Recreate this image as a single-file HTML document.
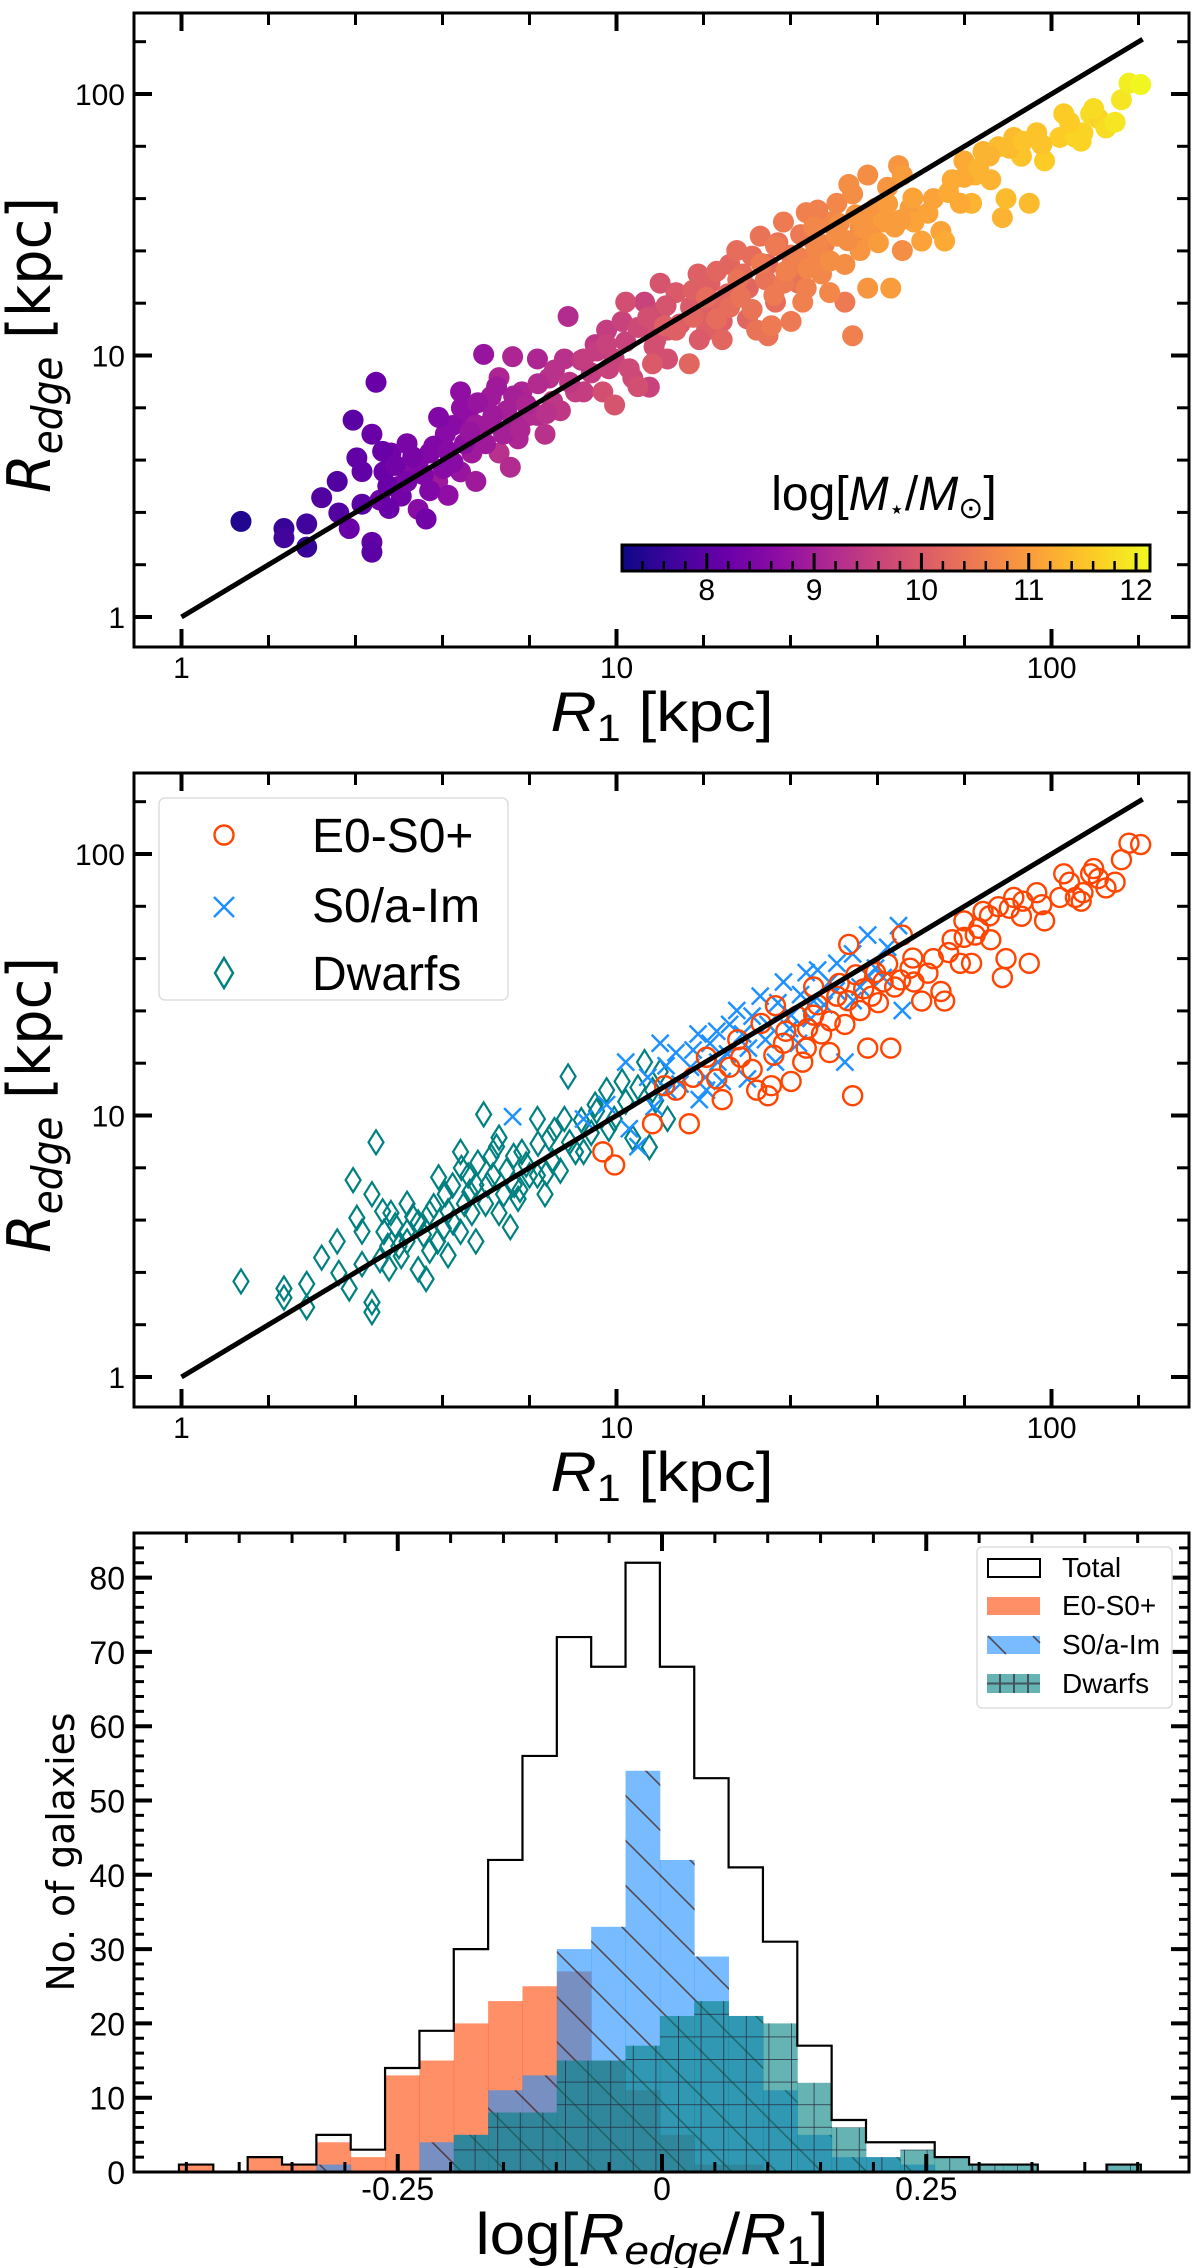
<!DOCTYPE html>
<html><head><meta charset="utf-8"><style>
html,body{margin:0;padding:0;background:#fff}
svg{display:block}
text{font-family:"Liberation Sans",sans-serif}
</style></head><body>
<svg id="fig" xmlns="http://www.w3.org/2000/svg" width="1200" height="2268" viewBox="0 0 1200 2268">
<defs>
<linearGradient id="plasmaGrad" x1="0" x2="1" y1="0" y2="0">
<stop offset="0" stop-color="#0d0887"/><stop offset="0.1" stop-color="#41049d"/><stop offset="0.2" stop-color="#6a00a8"/><stop offset="0.3" stop-color="#8f0da4"/><stop offset="0.4" stop-color="#b12a90"/><stop offset="0.5" stop-color="#cc4778"/><stop offset="0.6" stop-color="#e16462"/><stop offset="0.7" stop-color="#f2844b"/><stop offset="0.8" stop-color="#fca636"/><stop offset="0.9" stop-color="#fcce25"/><stop offset="1" stop-color="#f0f921"/>
</linearGradient>
<pattern id="hatchBack" patternUnits="userSpaceOnUse" width="45" height="45" x="0" y="0">
<line x1="-5" y1="-5" x2="50" y2="50" stroke="rgba(70,35,25,0.75)" stroke-width="1.6"/>
<line x1="-50" y1="-5" x2="5" y2="50" stroke="rgba(70,35,25,0.75)" stroke-width="1.6"/>
<line x1="40" y1="-5" x2="95" y2="50" stroke="rgba(70,35,25,0.75)" stroke-width="1.6"/>
</pattern>
<pattern id="hatchGrid" patternUnits="userSpaceOnUse" width="22.6" height="22.6" x="0" y="2172">
<line x1="0" y1="0" x2="22.6" y2="0" stroke="rgba(40,40,60,0.75)" stroke-width="2"/>
<line x1="0" y1="0" x2="0" y2="22.6" stroke="rgba(40,40,60,0.75)" stroke-width="2"/>
</pattern>
</defs>
<g id="panelTop"></g>
<g id="panelMid"></g>
<g id="panelHist"></g>
</svg>
<script>
// ---------- scatter data (R1 kpc, Redge kpc, log M*) ----------
const dwarfR1 = [1.37,1.72,1.72,1.94,1.94,2.10,2.28,2.43,2.48,2.53,2.74,2.74,2.74,2.80,2.86,2.92,3.03,3.16,3.30,3.30,3.50,3.50,3.65,3.72,3.88,4.04,4.1,4.38,4.38,4.56,4.65,4.75,4.95,5.05,5.15,5.37,5.59,5.70,5.94,6.06,6.31,6.58,6.85,7.0,7.43,7.59,7.74,8.05,8.75,8.93,9.49,9.88,10.3,10.9,11.6,11.9,12.1,12.6,13.1,2.98,3.72,4.21,4.75,5.82,6.58,7.13,8.40,5.37,4.47,
 2.6,2.9,3.1,3.2,3.4,3.6,3.8,4.0,4.2,4.4,4.6,4.8,5.0,5.2,5.5,5.8,6.2,6.6,7.2,7.8,8.3,9.0,9.6,10.5,11.2,12.3,3.0,2.3,3.3,4.1,5.3,6.0,6.9,3.9,2.6];
const dwarfRe = [2.32,2.18,2.01,2.27,1.85,2.86,3.30,2.18,5.66,4.06,5.0,1.93,1.77,7.9,2.80,3.59,4.24,3.16,4.6,3.59,3.90,2.58,2.37,4.24,3.30,5.0,2.92,7.26,3.59,5.9,4.24,3.30,10.1,5.43,6.97,4.24,6.15,3.74,4.80,7.26,5.90,9.7,5.0,8.2,6.15,9.7,14.1,7.26,8.58,11.0,12.5,9.7,13.5,8.2,16.0,7.57,12.5,14.7,9.7,3.17,3.04,3.90,5.43,5.43,5.90,6.68,7.26,8.23,4.60,
 3.6,4.3,3.8,2.9,4.1,3.5,4.5,3.7,5.4,6.3,5.1,6.6,4.6,5.9,5.0,7.0,6.5,7.8,8.8,7.9,9.6,10.4,8.9,11.3,12.8,11.4,2.6,2.5,3.3,4.3,7.6,5.2,6.0,5.8,2.7];
const dwarfM = [7.4,7.6,7.7,7.7,7.6,7.9,7.9,8.2,8.0,8.1,8.2,8.1,8.0,8.2,8.3,8.2,8.3,8.4,8.4,8.6,8.5,8.6,8.3,8.5,8.9,8.6,8.7,8.7,8.8,8.7,8.9,8.9,8.8,8.9,8.9,9.3,9.0,9.2,9.1,9.1,9.2,9.1,9.3,9.3,9.4,9.3,9.2,9.5,9.5,9.4,9.5,9.6,9.6,9.7,9.6,9.6,9.8,9.7,9.8,8.2,8.5,8.6,8.9,9.0,9.2,9.4,9.5,9.1,8.7,
 8.1,8.2,8.3,8.3,8.4,8.5,8.5,8.6,8.6,8.7,8.8,8.8,8.9,8.9,9.0,9.0,9.1,9.2,9.3,9.4,9.4,9.5,9.6,9.6,9.7,9.8,8.2,7.9,8.4,8.6,8.9,9.1,9.3,8.5,8.0];
const lateR1 = [5.77,8.4,9.49,10.5,10.7,11.2,12.6,13.7,14.8,15.4,16.4,17.1,18.2,18.9,20.1,21.4,22.3,23.2,24.2,25.2,27.3,28.4,30.9,32.1,33.5,34.9,36.3,37.8,39.4,41.0,44.5,45.4,17.5,26.2,13.1,16.1,
 11.8,12.2,13.0,14.0,15.0,16.0,17.0,18.0,19.5,20.5,22.0,23.5,25.0,26.5,28.0,30.0,32.0,35.0,38.0,42.0,29.0,20.0,15.5];
const lateRe = [9.9,9.7,11.0,16.0,8.9,7.6,18.9,17.4,15.3,20.5,18.9,16.0,22.3,25.2,18.1,28.6,22.3,16.0,32.4,24.2,35.2,27.4,32.4,38.2,16.0,41.5,31.0,49.0,36.6,33.7,53.2,25.2,13.5,18.9,12.5,12.5,
 14.0,10.8,15.5,13.2,17.8,14.0,21.0,17.2,20.5,24.0,19.5,27.0,21.5,29.0,23.5,26.5,30.0,27.5,34.0,44.0,36.0,13.8,11.5];
const lateM = [9.1,9.5,9.6,9.8,9.7,9.8,9.9,10.0,10.0,10.1,10.1,10.2,10.2,10.3,10.2,10.4,10.3,10.3,10.5,10.5,10.6,10.6,10.7,10.7,10.5,10.8,10.8,10.8,10.9,10.9,10.9,10.8,10.1,10.4,9.9,10.1,
 9.8,9.8,9.9,10.0,10.1,10.1,10.2,10.2,10.3,10.3,10.4,10.4,10.5,10.5,10.6,10.6,10.7,10.7,10.8,10.9,10.6,10.2,10.0];
const earlyR1 = [9.3,9.9,12.1,12.9,13.7,14.7,16.1,17.5,18.2,19.3,21.0,22.3,22.7,23.2,24.2,25.2,26.8,27.3,28.4,29.6,30.9,32.1,33.5,34.2,34.9,36.3,37.8,39.4,42.7,43.6,45.4,47.3,50.3,53.5,55.7,56.8,59.1,62.9,65.5,66.8,69.6,72.5,75.5,77.1,78.6,81.9,85.3,88.9,92.5,96.4,104.5,106.7,113.5,118.1,123.0,128.2,133.4,144.8,150.7,160.3,41.0,48.3,61.7,28.4,38.6,
 15.0,17.0,19.0,20.5,21.5,23.0,24.5,26.0,27.5,29.0,31.0,32.5,34.0,35.5,37.0,40.0,42.0,45.0,48.0,52.0,58.0,63.0,68.0,72.0,80.0,86.0,95.0,110.0,117.0,125.0,140.0];
const earlyRe = [7.26,6.47,9.3,13.0,12.5,9.3,16.7,11.5,15.3,16.7,12.5,11.9,13.0,26.3,18.9,13.5,16.0,18.1,24.2,20.5,17.4,28.6,22.3,45.1,11.9,25.2,18.1,35.2,18.1,31.0,49.0,36.6,27.4,39.8,29.8,27.4,47.0,55.5,38.2,49.0,60.3,47.0,62.9,33.7,39.8,68.2,57.8,38.2,71.1,55.5,68.2,84.0,68.2,71.1,84.0,80.6,74.2,95.1,110,108.7,32.4,32.4,38.2,31.0,28.6,
 14.0,13.8,19.5,15.0,22.5,17.0,21.0,24.0,21.5,26.5,23.0,32.0,27.5,34.5,30.5,27.0,38.0,33.0,40.0,35.0,42.0,48.0,52.0,58.0,62.0,66.0,64.0,78.0,66.0,88.0,78.0];
const earlyM = [9.8,9.9,10.0,10.1,10.1,10.2,10.3,10.2,10.3,10.4,10.4,10.4,10.5,10.5,10.5,10.5,10.6,10.6,10.7,10.7,10.7,10.8,10.8,10.8,10.6,10.9,10.9,10.9,11.0,11.0,11.0,11.0,11.1,11.1,11.1,11.2,11.2,11.2,11.3,11.3,11.3,11.3,11.4,11.3,11.4,11.4,11.5,11.4,11.5,11.6,11.6,11.6,11.7,11.7,11.8,11.7,11.8,11.9,12.0,12.1,11.0,11.1,11.2,10.7,10.9,
 10.2,10.3,10.4,10.4,10.5,10.5,10.6,10.6,10.7,10.7,10.8,10.8,10.8,10.9,10.9,11.0,11.0,11.0,11.1,11.1,11.2,11.2,11.3,11.3,11.4,11.5,11.5,11.6,11.7,11.8,11.9];
const fitLine = [1, 162];
const xTickLabels = ["1","10","100"];
const yTickLabels = ["1","10","100"];
const cbTicks = [8,9,10,11,12];
const cbRange = [7.21, 12.13];

// ---------- histogram data (28 bins from -0.457, width 0.0325) ----------
const binStart = -0.457;
const binWidth = 0.0325;
const totalCounts = [1,0,2,1,5,3,14,19,30,42,56,72,68,82,68,53,41,31,17,7,4,4,2,1,1,0,0,1];
const earlyCounts = [1,0,2,1,4,2,13,15,20,23,25,27,15,11,5,1,1,0,0,0,0,0,0,0,0,0,0,0];
const lateCounts  = [0,0,0,0,1,0,0,4,5,11,13,30,33,54,42,29,21,11,5,2,2,1,0,0,0,0,0,0];
const dwarfCounts = [0,0,0,0,0,0,0,0,5,8,8,15,15,17,21,23,21,20,12,6,2,3,2,1,1,0,0,1];
const histXTicks = [-0.25, 0, 0.25];
const histXTickLabels = ["-0.25","0","0.25"];
const histYTicks = [0,10,20,30,40,50,60,70,80];

const NS = "http://www.w3.org/2000/svg";
function mk(parent, tag, attrs, txt){
  const e = document.createElementNS(NS, tag);
  for (const k in attrs) e.setAttribute(k, attrs[k]);
  if (txt !== undefined) e.textContent = txt;
  parent.appendChild(e);
  return e;
}
const plasma = ["#0d0887","#41049d","#6a00a8","#8f0da4","#b12a90","#cc4778","#e16462","#f2844b","#fca636","#fcce25","#f0f921"];
function hex(c){return [parseInt(c.slice(1,3),16),parseInt(c.slice(3,5),16),parseInt(c.slice(5,7),16)];}
function cmap(m){
  let t = (m-cbRange[0])/(cbRange[1]-cbRange[0]); t=Math.max(0,Math.min(1,t));
  const f=t*10, i=Math.min(9,Math.floor(f)), u=f-i;
  const a=hex(plasma[i]), b=hex(plasma[i+1]);
  return "rgb("+a.map((v,k)=>Math.round(v+(b[k]-v)*u)).join(",")+")";
}

const L=134, R=1189;
function sx(v){return 181.5 + 435*Math.log10(v);}
function makeSy(oy){return v => oy + 617 - 261.5*Math.log10(v);}

function drawScatterFrame(g, oy, sy){
  const T = oy+13, B = oy+647;
  for (let k=-1;k<=12;k++){
    const lv=k*0.2, X=181.5+435*lv;
    if (X>L+1 && X<R-1){
      const major = (k%5===0);
      const len = major?18:12;
      const t1=mk(g,"line",{x1:X,y1:B,x2:X,y2:B-len,stroke:"#000","stroke-width":major?4:3});
      
      
      const t2=mk(g,"line",{x1:X,y1:T,x2:X,y2:T+len,stroke:"#000","stroke-width":major?4:3});
      
      
    }
    const Y = oy+617-261.5*lv;
    if (Y>T+1 && Y<B-1){
      const major=(k%5===0);
      const len=major?18:12;
      const t3=mk(g,"line",{x1:L,y1:Y,x2:L+len,y2:Y,stroke:"#000","stroke-width":major?4:3});
      
      
      const t4=mk(g,"line",{x1:R,y1:Y,x2:R-len,y2:Y,stroke:"#000","stroke-width":major?4:3});
      
      
    }
  }
  xTickLabels.forEach(s=>{
    const t=mk(g,"text",{x:sx(+s),y:oy+678,"font-size":30,"text-anchor":"middle"},s);
    
    
  });
  yTickLabels.forEach(s=>{
    const t=mk(g,"text",{x:125,y:sy(+s)+11,"font-size":30,"text-anchor":"end"},s);
    
    
  });
  const fl=mk(g,"line",{x1:sx(fitLine[0]),y1:sy(fitLine[0]),x2:sx(fitLine[1]),y2:sy(fitLine[1]),stroke:"#000","stroke-width":5});
  
  
  const fr=mk(g,"rect",{x:L,y:T,width:R-L,height:B-T,fill:"none",stroke:"#000","stroke-width":3});
  
  
  const xl=mk(g,"text",{x:662,y:oy+731,"font-size":56,"text-anchor":"middle",textLength:223,lengthAdjust:"spacingAndGlyphs"});
  
  
  xl.innerHTML='<tspan font-style="italic">R</tspan><tspan font-size="38" dy="10">1</tspan><tspan dy="-10"> [kpc]</tspan>';
  const yl=mk(g,"text",{transform:"translate(50,"+(oy+345)+") rotate(-90)","font-size":60,"text-anchor":"middle",textLength:296,lengthAdjust:"spacingAndGlyphs",style:"font-family:'DejaVu Sans',sans-serif"});
  
  
  yl.innerHTML='<tspan font-style="italic">R</tspan><tspan font-style="italic" font-size="42" dy="12">edge</tspan><tspan dy="-12"> [kpc]</tspan>';
}

(function(){
  const g=document.getElementById("panelTop");
  const sy=makeSy(0);
  const pts=mk(g,"g",{});
  
  
  function plot(r1,re,m,name){
    r1.forEach((v,i)=>{
      const c=mk(pts,"circle",{cx:sx(v),cy:sy(re[i]),r:10.5,fill:cmap(m[i])});
      
      
    });
  }
  plot(dwarfR1,dwarfRe,dwarfM,'dwarf-point');
  plot(lateR1,lateRe,lateM,'late-type-point');
  plot(earlyR1,earlyRe,earlyM,'early-type-point');
  drawScatterFrame(g,0,sy);
  const cx0=622, cx1=1150, cy0=545, cy1=571;
  const cb=mk(g,"g",{});
  
  
  mk(cb,"rect",{x:cx0,y:cy0,width:cx1-cx0,height:cy1-cy0,fill:"url(#plasmaGrad)"});
  const cbx=v=>cx0+(v-cbRange[0])/(cbRange[1]-cbRange[0])*(cx1-cx0);
  for(let v=7.4; v<12.11; v+=0.2){
    const major=Math.abs(v-Math.round(v))<0.01;
    const t=mk(cb,"line",{x1:cbx(v),y1:cy1,x2:cbx(v),y2:cy1-(major?18:10),stroke:"#000","stroke-width":major?3:2.5});
    
    
  }
  mk(cb,"rect",{x:cx0,y:cy0,width:cx1-cx0,height:cy1-cy0,fill:"none",stroke:"#000","stroke-width":3});
  cbTicks.forEach(v=>{
    const t=mk(cb,"text",{x:cbx(v),y:600,"font-size":30,"text-anchor":"middle"},String(v));
    
    
  });
  const lab=mk(cb,"text",{x:884,y:510,"font-size":48,"text-anchor":"middle"});
  
  
  lab.innerHTML='log[<tspan font-style="italic">M</tspan><tspan font-size="26" dy="8">⋆</tspan><tspan dy="-8">/</tspan><tspan font-style="italic">M</tspan><tspan font-size="30" dy="8">⊙</tspan><tspan dy="-8">]</tspan>';
})();

(function(){
  const g=document.getElementById("panelMid");
  const oy=760, sy=makeSy(oy);
  const pts=mk(g,"g",{});
  
  
  dwarfR1.forEach((v,i)=>{
    const X=sx(v), Y=sy(dwarfRe[i]);
    const p=mk(pts,"polygon",{points:`${X},${Y-12} ${X+7.5},${Y} ${X},${Y+12} ${X-7.5},${Y}`,fill:"none",stroke:"#008080","stroke-width":2.2});
    
    
  });
  lateR1.forEach((v,i)=>{
    const X=sx(v), Y=sy(lateRe[i]), d=8.5;
    const p=mk(pts,"path",{d:`M${X-d},${Y-d}L${X+d},${Y+d}M${X-d},${Y+d}L${X+d},${Y-d}`,stroke:"#1e90ff","stroke-width":2.5,fill:"none"});
    
    
  });
  earlyR1.forEach((v,i)=>{
    const c=mk(pts,"circle",{cx:sx(v),cy:sy(earlyRe[i]),r:9.5,fill:"none",stroke:"#ff4500","stroke-width":2.4});
    
    
  });
  drawScatterFrame(g,oy,sy);
  const lg=mk(g,"g",{});
  
  
  mk(lg,"rect",{x:159,y:798,width:349,height:202,rx:6,fill:"rgba(255,255,255,0.85)",stroke:"#dddddd","stroke-width":1.5});
  const e1=mk(lg,"circle",{cx:224,cy:835,r:9.5,fill:"none",stroke:"#ff4500","stroke-width":2.4});
  
  
  const e2=mk(lg,"path",{d:"M214,897L234,917M214,917L234,897",stroke:"#1e90ff","stroke-width":2.5});
  
  
  const e3=mk(lg,"polygon",{points:"224,958 233,973 224,988 215,973",fill:"none",stroke:"#008080","stroke-width":2.4});
  
  
  [["E0-S0+",852],["S0/a-Im",922],["Dwarfs",990]].forEach(([s,y])=>{
    const t=mk(lg,"text",{x:312,y:y,"font-size":48},s);
    
    
  });
})();

(function(){
  const g=document.getElementById("panelHist");
  const T=1533, B=2172, k=7.43;
  const hx=v=>662+1057*v;
  const hy=c=>B-c*k;
  function bars(counts, fill, name){
    const grp=mk(g,"g",{});
    
    
    counts.forEach((c,i)=>{
      if(!c) return;
      const x0=hx(binStart+i*binWidth), x1=hx(binStart+(i+1)*binWidth);
      const r=mk(grp,"rect",{x:x0,y:hy(c),width:x1-x0+0.4,height:c*k,fill:fill});
      
      
    });
    return grp;
  }
  bars(earlyCounts,"rgba(255,69,0,0.6)","early-type-bars");
  bars(lateCounts,"rgba(30,144,255,0.6)","late-type-bars");
  bars(lateCounts,"url(#hatchBack)","late-type-hatch");
  bars(dwarfCounts,"rgba(0,128,128,0.6)","dwarf-bars");
  bars(dwarfCounts,"url(#hatchGrid)","dwarf-hatch");
  let d="";
  totalCounts.forEach((c,i)=>{
    const x0=hx(binStart+i*binWidth), x1=hx(binStart+(i+1)*binWidth);
    d += (i===0?`M${x0},${B}`:"") + `L${x0},${hy(c)}L${x1},${hy(c)}`;
  });
  d += `L${hx(binStart+totalCounts.length*binWidth)},${B}`;
  const st=mk(g,"path",{d:d,fill:"none",stroke:"#000","stroke-width":2.2});
  
  
  for(let v=-0.5; v<=0.5001; v+=0.05){
    const X=hx(v); if(X<=L+1||X>=R-1) continue;
    const major=Math.abs(v/0.25-Math.round(v/0.25))<0.01;
    const len=major?18:10;
    const a=mk(g,"line",{x1:X,y1:B,x2:X,y2:B-len,stroke:"#000","stroke-width":major?4:3});
    
    
    const b=mk(g,"line",{x1:X,y1:T,x2:X,y2:T+len,stroke:"#000","stroke-width":major?4:3});
    
    
  }
  for(let c=2;c<86;c+=2){
    const Y=hy(c), major=c%10===0, len=major?18:10;
    const a=mk(g,"line",{x1:L,y1:Y,x2:L+len,y2:Y,stroke:"#000","stroke-width":major?4:3});
    
    
    const b=mk(g,"line",{x1:R,y1:Y,x2:R-len,y2:Y,stroke:"#000","stroke-width":major?4:3});
    
    
  }
  histXTicks.forEach((v,i)=>{
    const t=mk(g,"text",{x:hx(v),y:2200,"font-size":32,"text-anchor":"middle"},histXTickLabels[i]);
    
    
  });
  histYTicks.forEach(c=>{
    const t=mk(g,"text",{x:125,y:hy(c)+12,"font-size":32,"text-anchor":"end"},String(c));
    
    
  });
  const fr=mk(g,"rect",{x:L,y:T,width:R-L,height:B-T,fill:"none",stroke:"#000","stroke-width":3});
  
  
  const xl=mk(g,"text",{x:652,y:2254,"font-size":58,"text-anchor":"middle",textLength:353,lengthAdjust:"spacingAndGlyphs"});
  
  
  xl.innerHTML='log[<tspan font-style="italic">R</tspan><tspan font-style="italic" font-size="40" dy="10">edge</tspan><tspan dy="-10">/</tspan><tspan font-style="italic">R</tspan><tspan font-size="40" dy="10">1</tspan><tspan dy="-10">]</tspan>';
  const yl=mk(g,"text",{transform:"translate(74,1852) rotate(-90)","font-size":38,"text-anchor":"middle",textLength:279,lengthAdjust:"spacingAndGlyphs",style:"font-family:'DejaVu Sans',sans-serif"},"No. of galaxies");
  
  
  const lg=mk(g,"g",{});
  
  
  mk(lg,"rect",{x:977,y:1547,width:195,height:161,rx:5,fill:"rgba(255,255,255,0.85)",stroke:"#dddddd","stroke-width":1.5});
  const p1=mk(lg,"rect",{x:988,y:1559,width:52,height:18,fill:"#fff",stroke:"#000","stroke-width":2});
  
  
  const p2=mk(lg,"rect",{x:987,y:1597,width:53,height:18,fill:"rgba(255,69,0,0.6)"});
  
  
  const p3=mk(lg,"rect",{x:987,y:1636,width:53,height:18,fill:"rgba(30,144,255,0.6)"});
  
  
  mk(lg,"line",{x1:988,y1:1636,x2:1006,y2:1654,stroke:"rgba(70,35,25,0.75)","stroke-width":1.6});
  mk(lg,"line",{x1:1033,y1:1636,x2:1040,y2:1643,stroke:"rgba(70,35,25,0.75)","stroke-width":1.6});
  const p4=mk(lg,"rect",{x:987,y:1674,width:53,height:19,fill:"rgba(0,128,128,0.6)"});
  
  
  mk(lg,"path",{d:"M987,1683.5H1040M1000,1674V1693M1014,1674V1693M1028,1674V1693",stroke:"rgba(60,60,70,0.8)","stroke-width":2,fill:"none"});
  [["Total",1577],["E0-S0+",1615],["S0/a-Im",1654],["Dwarfs",1693]].forEach(([s,y])=>{
    const t=mk(lg,"text",{x:1062,y:y,"font-size":28},s);
    
    
  });
})();
</script>
</body></html>
